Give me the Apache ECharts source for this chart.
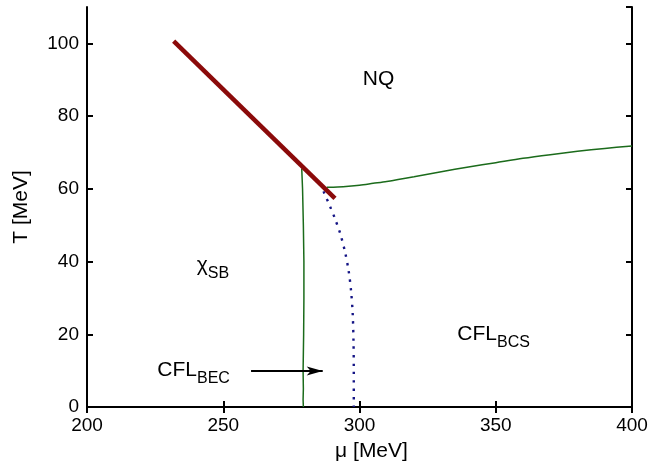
<!DOCTYPE html>
<html>
<head>
<meta charset="utf-8">
<script src="https://cdn.jsdelivr.net/npm/echarts@6/dist/echarts.min.js"></script>
<style>
html,body{margin:0;padding:0;background:#fff;}
#chart{width:671px;height:473px;}
</style>
</head>
<body>
<div id="chart"></div>
<script>
// Data (mu [MeV], T [MeV])
const firstOrderLine = [[231.8, 100.6], [291.0, 57.4]];
const chiSBBoundary = [[278.8, 65.6], [279.1, 60], [279.4, 50], [279.6, 40], [279.6, 30], [279.5, 20], [279.3, 10], [279.4, 5], [279.3, 2], [279.4, 0]];
const nqBoundary = [[288, 60.4], [292, 60.5], [296, 60.7], [300, 61.0], [305, 61.5], [310, 62.0], [320, 63.3], [330, 64.7], [340, 66.0], [350, 67.2], [360, 68.4], [370, 69.4], [380, 70.3], [390, 71.1], [400, 71.8]];
const becBcsCrossover = [[286.8, 59.3], [289, 55.5], [291, 51.8], [293, 47.5], [294.7, 42.6], [296, 37.5], [296.9, 32], [297.5, 25.7], [297.8, 18], [297.9, 10], [297.9, 0]];
const arrowLine = [[260.2, 9.9], [286.5, 9.9]];
const regionLabels = [
  {name: 'NQ', main: 'NQ', sub: '', at: [301.2, 89.8]},
  {name: 'chiSB', main: 'χ', sub: 'SB', at: [240.3, 38.8]},
  {name: 'CFLBCS', main: 'CFL', sub: 'BCS', at: [335.9, 19.7]},
  {name: 'CFLBEC', main: 'CFL', sub: 'BEC', at: [225.8, 9.9]}
];
const xTicks = [200, 250, 300, 350, 400];
const yTicks = [0, 20, 40, 60, 80, 100];

const FONT = '"Liberation Sans", Arial, Helvetica, sans-serif';
const chart = echarts.init(document.getElementById('chart'), null, {renderer: 'canvas'});

const axisCommon = {
  axisLine: {show: true, lineStyle: {color: '#000', width: 2}},
  axisTick: {show: true, inside: true, length: 6, lineStyle: {color: '#000', width: 2}},
  splitLine: {show: false}
};

const option = {
  animation: false,
  backgroundColor: '#fff',
  grid: {left: 87, right: 39, top: 7, bottom: 66, containLabel: false},
  xAxis: [
    Object.assign({
      type: 'value', min: xTicks[0], max: xTicks[xTicks.length - 1], interval: 50,
      position: 'bottom',
      name: 'μ [MeV]', nameLocation: 'middle', nameGap: 34,
      nameTextStyle: {fontFamily: FONT, fontSize: 21, color: '#000', padding: [0, 0, 0, 24]},
      axisLabel: {fontFamily: FONT, fontSize: 19, color: '#000', margin: 9}
    }, axisCommon),
    Object.assign({
      type: 'value', min: xTicks[0], max: xTicks[xTicks.length - 1], interval: 50,
      position: 'top', axisLabel: {show: false}
    }, axisCommon)
  ],
  yAxis: [
    Object.assign({
      type: 'value', min: 0, max: 110, interval: 20,
      position: 'left',
      name: 'T [MeV]', nameLocation: 'middle', nameGap: 55, nameRotate: 90,
      nameTextStyle: {fontFamily: FONT, fontSize: 21, color: '#000'},
      axisLabel: {fontFamily: FONT, fontSize: 19, color: '#000', margin: 8, showMaxLabel: false,
        formatter: v => (yTicks.indexOf(v) >= 0 ? String(v) : '')}
    }, axisCommon),
    Object.assign({
      type: 'value', min: 0, max: 110, interval: 20,
      position: 'right', axisLabel: {show: false}
    }, axisCommon)
  ],
  series: [
    {
      type: 'line', data: chiSBBoundary, showSymbol: false, symbol: 'none',
      lineStyle: {color: '#1b6b1b', width: 1.5}
    },
    {
      type: 'line', data: nqBoundary, showSymbol: false, symbol: 'none', smooth: 0.3,
      lineStyle: {color: '#1b6b1b', width: 1.5}
    },
    {
      type: 'line', data: becBcsCrossover, showSymbol: false, symbol: 'none', smooth: 0.3,
      lineStyle: {color: '#141485', width: 2.4, type: [2.4, 6]}
    },
    {
      type: 'line', data: firstOrderLine, showSymbol: false, symbol: 'none',
      lineStyle: {color: '#8b0a0a', width: 4.5, cap: 'butt'}
    },
    {
      type: 'line',
      data: [
        {value: arrowLine[0], symbol: 'none'},
        {value: arrowLine[1], symbol: 'path://M0,0 L16,4.5 L0,9 L4,4.5 Z', symbolSize: [16, 9], symbolOffset: [-8, 0], symbolKeepAspect: false}
      ],
      showSymbol: true, showAllSymbol: true,
      itemStyle: {color: '#000'},
      lineStyle: {color: '#000', width: 2}
    },
    {
      type: 'scatter', symbolSize: 0,
      itemStyle: {opacity: 1, color: '#000'},
      data: regionLabels.map(r => ({name: r.name, value: r.at, main: r.main, sub: r.sub})),
      label: {
        show: true, position: 'right', distance: 0, color: '#000', opacity: 1,
        formatter: p => '{m|' + p.data.main + '}' + (p.data.sub ? '{s|' + p.data.sub + '}' : ''),
        rich: {
          m: {fontFamily: FONT, fontSize: 21, color: '#000', lineHeight: 23, verticalAlign: 'top'},
          s: {fontFamily: FONT, fontSize: 16, color: '#000', lineHeight: 16, padding: [11, 0, 0, 0], verticalAlign: 'top'}
        }
      },
      silent: true
    }
  ]
};
chart.setOption(option);
</script>
</body>
</html>
